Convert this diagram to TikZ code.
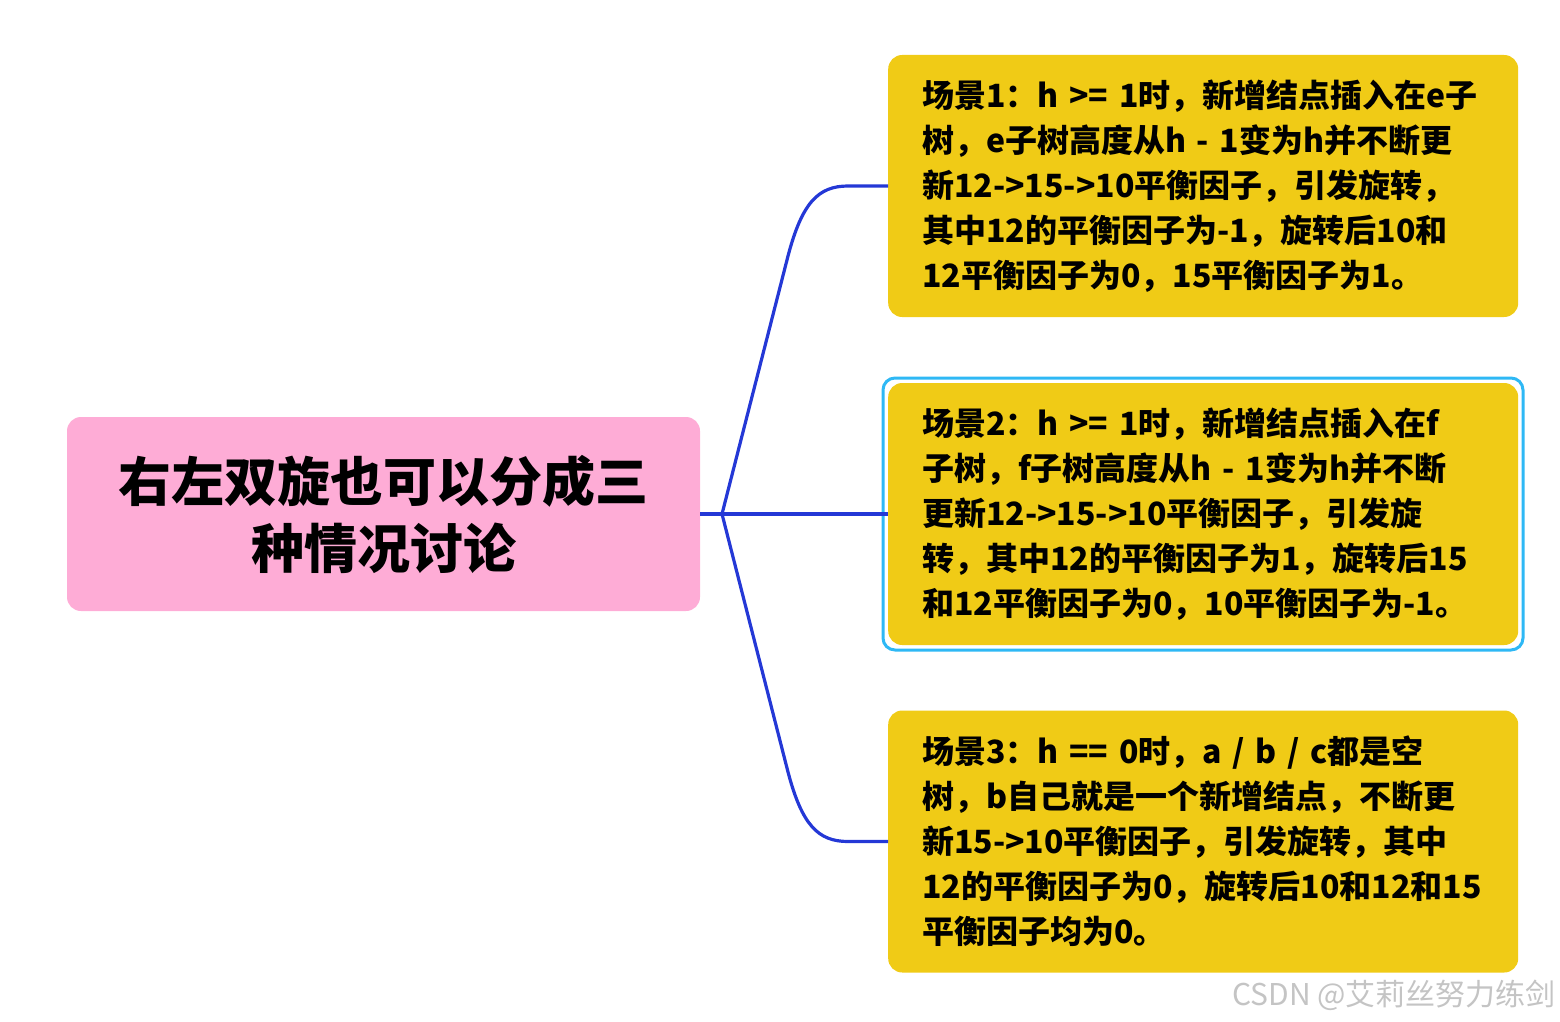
\documentclass[tikz,border=0pt]{standalone}
\usepackage{fontspec}
\newfontfamily\cjk{Noto Sans CJK SC}
\definecolor{boxyellow}{HTML}{F0CB16}
\definecolor{rootpink}{HTML}{FEACD6}
\definecolor{linkblue}{HTML}{2438D6}
\definecolor{selcyan}{HTML}{2EB8F5}
\definecolor{wmgray}{HTML}{C4C4C4}
\tikzset{
  topic/.style={fill=boxyellow, rounded corners=14pt, text width=562pt, inner xsep=34pt, inner ysep=0pt,
    minimum height=262pt, align=left, anchor=west,
    font=\cjk\bfseries\fontsize{32}{45}\selectfont, text=black},
  rootbox/.style={fill=rootpink, rounded corners=14pt, minimum width=633pt, minimum height=194pt,
    align=center, font=\cjk\bfseries\fontsize{53}{67}\selectfont, text=black},
  link/.style={draw=linkblue, line width=3.2pt},
  sel/.style={draw=selcyan, line width=3pt, rounded corners=12pt}
}
\begin{document}
\begin{tikzpicture}[x=1pt,y=-1pt]
\useasboundingbox (0,0) rectangle (1560,1022);
\node[rootbox] (root) at (383.5,514) {右左双旋也可以分成三\\种情况讨论};
\node[topic] (t1) at (888,186) {场景1：h >= 1时，新增结点插入在e子\\树，e子树高度从h - 1变为h并不断更\\新12->15->10平衡因子，引发旋转，\\其中12的平衡因子为-1，旋转后10和\\12平衡因子为0，15平衡因子为1。};
\node[topic] (t2) at (888,514) {场景2：h >= 1时，新增结点插入在f\\子树，f子树高度从h - 1变为h并不断\\更新12->15->10平衡因子，引发旋\\转，其中12的平衡因子为1，旋转后15\\和12平衡因子为0，10平衡因子为-1。};
\node[topic] (t3) at (888,841.5) {场景3：h == 0时，a / b / c都是空\\树，b自己就是一个新增结点，不断更\\新15->10平衡因子，引发旋转，其中\\12的平衡因子为0，旋转后10和12和15\\平衡因子均为0。};
\coordinate (hub) at (722,514);
\draw[sel] (883,378) rectangle (1523,650);
\draw[link] (root.east) -- (hub);
\draw[link] (hub) -- (t2.west);
\draw[link] (hub) -- (788,256) .. controls (802,203) and (818,186) .. (848,186) -- (t1.west);
\draw[link] (hub) -- (788,772) .. controls (802,825) and (818,841.5) .. (848,841.5) -- (t3.west);
\node[anchor=east, text=wmgray, font=\cjk\fontsize{30}{32}\selectfont, inner sep=0pt] (wm) at (1556,995) {CSDN @艾莉丝努力练剑};
\end{tikzpicture}
\end{document}
